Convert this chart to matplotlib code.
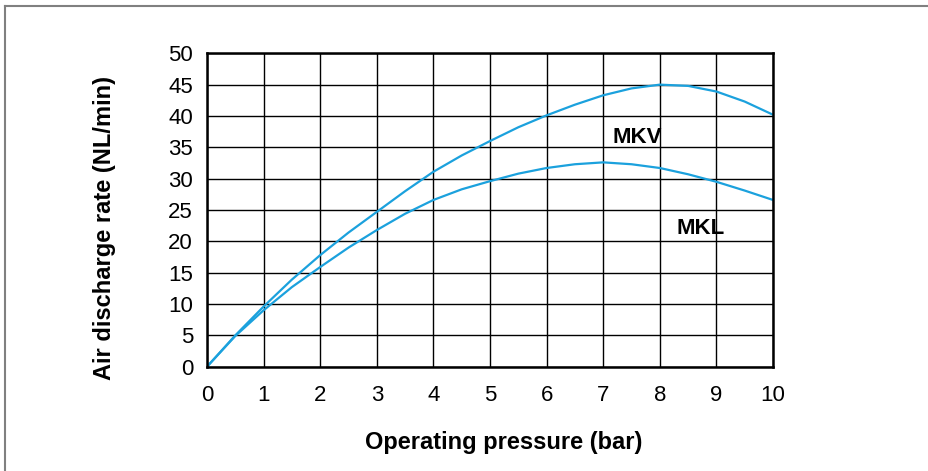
import matplotlib.pyplot as plt
from matplotlib.lines import Line2D

# Datos
presion = [0, 0.5, 1, 1.5, 2, 2.5, 3, 3.5, 4, 4.5, 5, 5.5, 6, 6.5, 7, 7.5, 8, 8.5, 9, 9.5, 10]
mkv = [0, 5.0, 9.6, 13.9, 17.8, 21.4, 24.7, 28.0, 31.1, 33.7, 36.0, 38.2, 40.1, 41.8, 43.3, 44.4, 45.0, 44.8, 43.9, 42.3, 40.2]
mkl = [0, 4.9, 9.0, 12.7, 15.9, 19.0, 21.8, 24.4, 26.6, 28.3, 29.6, 30.8, 31.7, 32.3, 32.6, 32.3, 31.7, 30.7, 29.5, 28.1, 26.6]
xticks = list(range(0, 11))
yticks = list(range(0, 51, 5))

plt.rcParams['font.family'] = ['Liberation Sans', 'DejaVu Sans']

fig = plt.figure(figsize=(9.29, 4.71), dpi=100)
ax = fig.add_axes([207 / 929, 1 - 366.7 / 471, (773 - 207) / 929, (366.7 - 53.3) / 471])

color = '#1ba1dd'
ax.plot(presion, mkv, color=color, lw=1.6)
ax.plot(presion, mkl, color=color, lw=1.6)

ax.set_xlim(0, 10)
ax.set_ylim(0, 50)
ax.set_xticks(xticks)
ax.set_yticks(yticks)
ax.tick_params(length=0, labelsize=16)
ax.tick_params(axis='x', pad=13)
ax.tick_params(axis='y', pad=10)
ax.grid(True, color='black', lw=1.0)
for s in ax.spines.values():
    s.set_linewidth(1.8)
    s.set_color('black')

ax.text(7.17, 36.6, 'MKV', fontsize=16, fontweight='bold', va='center')
ax.text(8.29, 22.1, 'MKL', fontsize=16, fontweight='bold', va='center')

# Titulos de ejes
fig.text(504 / 929, 1 - 443 / 471, 'Operating pressure (bar)', fontsize=17, fontweight='bold',
         ha='center', va='center')
fig.text(105 / 929, 1 - 228 / 471, 'Air discharge rate (NL/min)', fontsize=17, fontweight='bold',
         ha='center', va='center', rotation=90)

# Marco exterior gris
fig.add_artist(Line2D([5.5 / 929, 1], [1 - 5.5 / 471, 1 - 5.5 / 471], color='#808080', lw=1.5))
fig.add_artist(Line2D([5.5 / 929, 5.5 / 929], [0, 1 - 5.5 / 471], color='#808080', lw=1.5))

fig.savefig('out.png', dpi=100)
plt.close()
